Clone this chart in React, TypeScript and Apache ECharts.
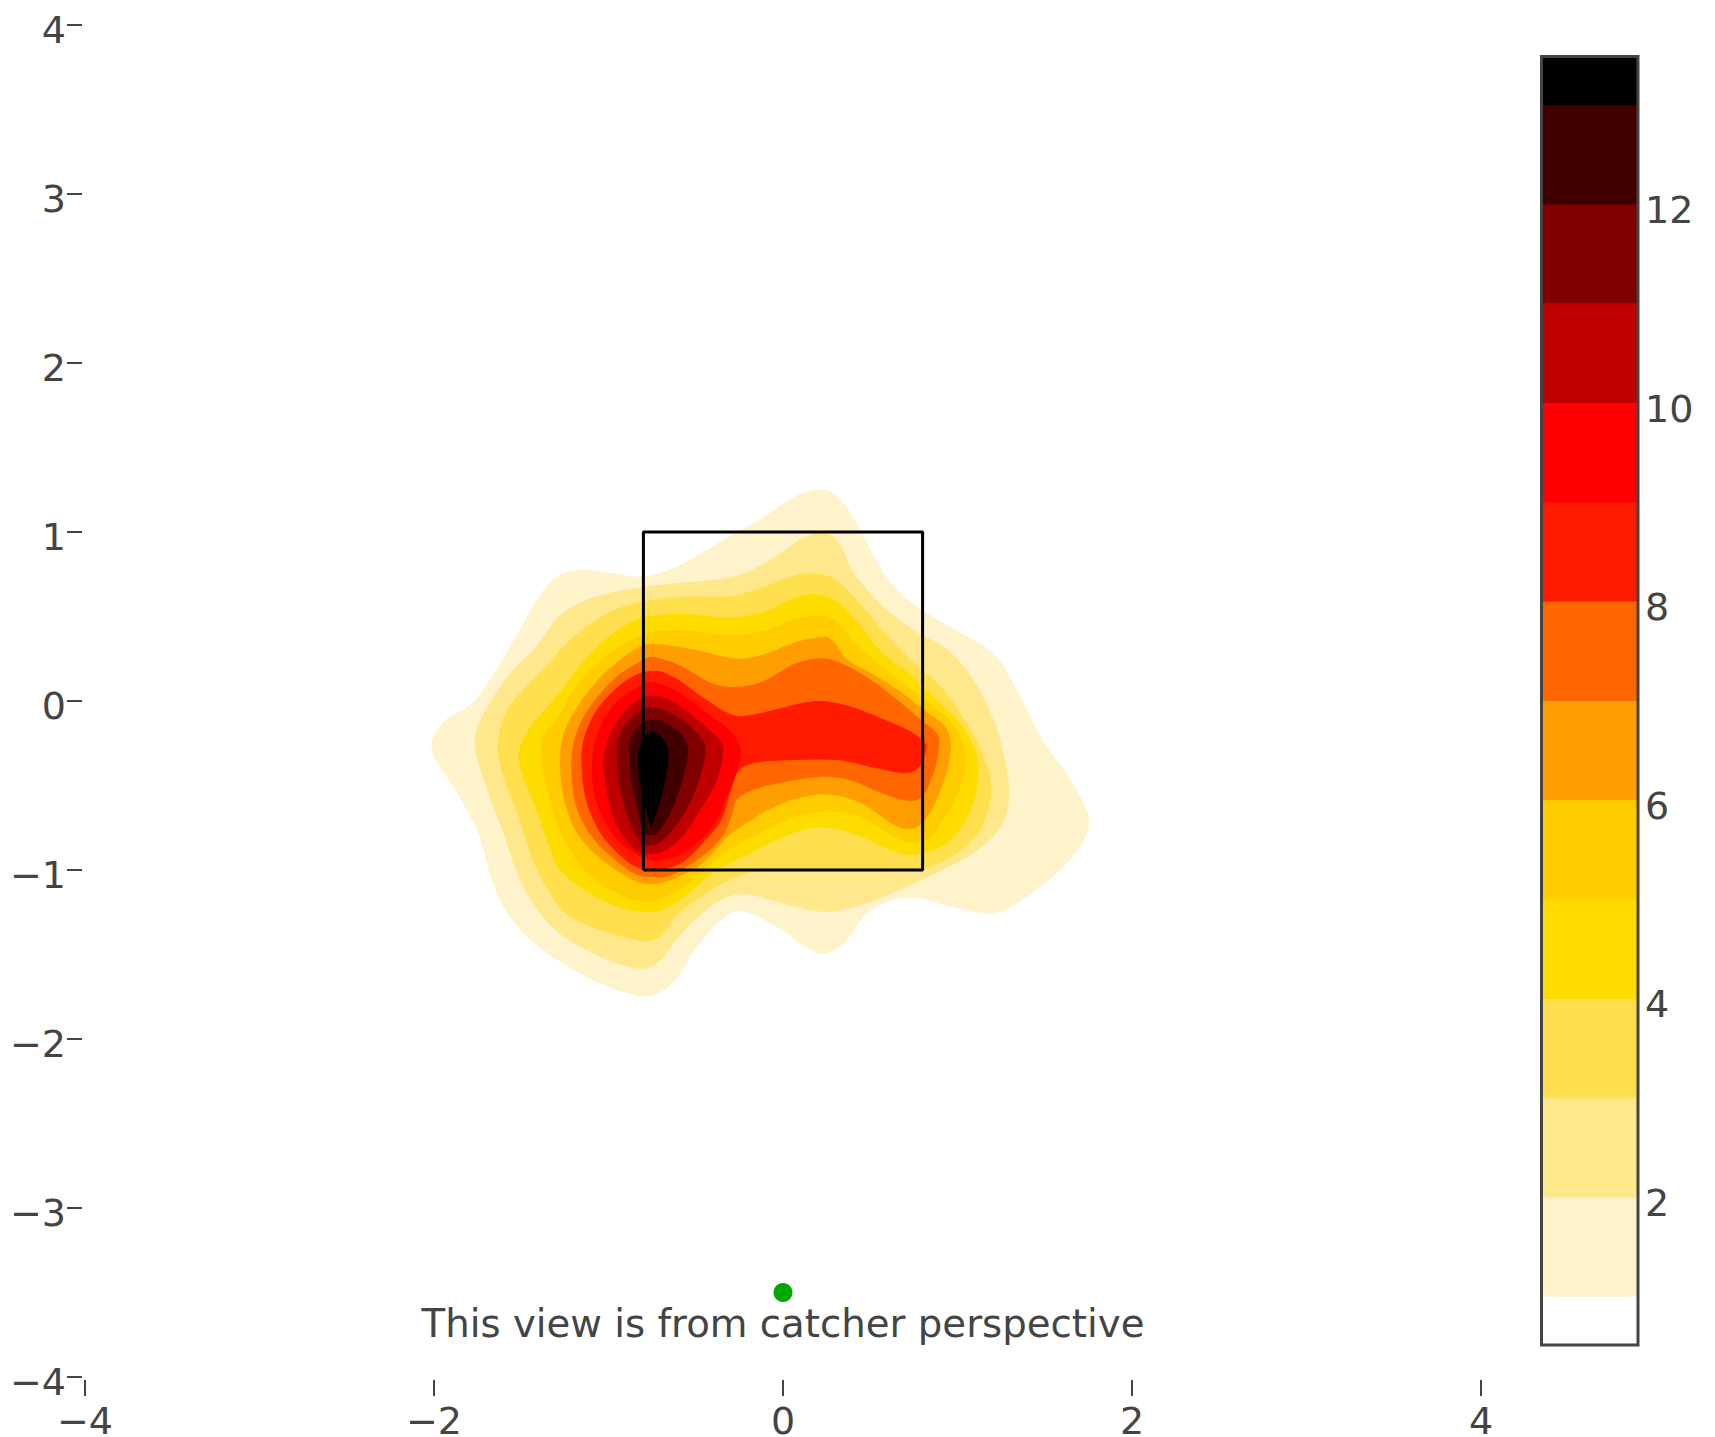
import React, { useEffect, useRef } from "react";
import * as echarts from "echarts";

type P = number[];
const level1: P[] = [[.227,1.253],[.333,1.189],[.438,1.021],[.57,.768],[.729,.589],[.966,.432],[1.204,.284],[1.336,.074],[1.494,-.242],[1.653,-.474],[1.753,-.705],[1.679,-.895],[1.494,-1.084],[1.283,-1.231],[1.151,-1.257],[.94,-1.21],[.755,-1.164],[.597,-1.189],[.465,-1.274],[.359,-1.421],[.24,-1.497],[.121,-1.452],[-.037,-1.337],[-.235,-1.242],[-.354,-1.295],[-.486,-1.442],[-.618,-1.652],[-.75,-1.743],[-.882,-1.732],[-1.067,-1.663],[-1.304,-1.526],[-1.463,-1.4],[-1.595,-1.231],[-1.674,-1.042],[-1.753,-.768],[-1.885,-.516],[-1.991,-.347],[-2.012,-.242],[-1.938,-.116],[-1.779,-.011],[-1.647,.179],[-1.515,.41],[-1.383,.642],[-1.278,.747],[-1.146,.777],[-.961,.754],[-.803,.737],[-.644,.779],[-.486,.863],[-.301,.979],[-.116,1.084],[.069,1.21]];
const level2: P[] = [[.253,.989],[.333,.916],[.399,.768],[.544,.589],[.729,.432],[.94,.305],[1.098,.116],[1.23,-.179],[1.296,-.516],[1.257,-.726],[1.125,-.874],[.913,-1],[.649,-1.126],[.438,-1.21],[.24,-1.248],[.042,-1.21],[-.143,-1.158],[-.275,-1.147],[-.407,-1.21],[-.565,-1.358],[-.697,-1.526],[-.789,-1.583],[-.908,-1.568],[-1.067,-1.505],[-1.278,-1.379],[-1.41,-1.231],[-1.515,-1.042],[-1.608,-.768],[-1.713,-.474],[-1.766,-.263],[-1.727,-.095],[-1.568,.158],[-1.41,.326],[-1.291,.495],[-1.146,.589],[-.935,.653],[-.644,.695],[-.407,.716],[-.222,.758],[-.063,.842],[.121,.968]];
const level3: P[] = [[.187,.754],[.306,.716],[.438,.579],[.597,.389],[.755,.221],[.913,.074],[1.032,-.095],[1.125,-.263],[1.191,-.474],[1.177,-.642],[1.098,-.81],[.94,-.937],[.781,-.996],[.57,-1.004],[.306,-1.004],[.042,-1],[-.195,-1.017],[-.354,-1.084],[-.512,-1.189],[-.618,-1.274],[-.671,-1.358],[-.75,-1.417],[-.855,-1.41],[-1.04,-1.358],[-1.225,-1.274],[-1.331,-1.147],[-1.436,-.937],[-1.515,-.684],[-1.608,-.432],[-1.634,-.242],[-1.568,-.032],[-1.383,.179],[-1.212,.368],[-1.014,.516],[-.803,.589],[-.565,.617],[-.301,.621],[-.116,.674],[.069,.743]];
const level4: P[] = [[.187,.632],[.306,.589],[.438,.453],[.57,.284],[.729,.158],[.874,.011],[1.019,-.137],[1.111,-.326],[1.111,-.516],[1.045,-.705],[.94,-.842],[.781,-.905],[.649,-.895],[.438,-.8],[.24,-.747],[.042,-.789],[-.195,-.905],[-.407,-1.021],[-.539,-1.137],[-.671,-1.227],[-.763,-1.248],[-.908,-1.231],[-1.093,-1.147],[-1.278,-1],[-1.357,-.81],[-1.423,-.621],[-1.502,-.41],[-1.51,-.284],[-1.436,-.137],[-1.278,.053],[-1.172,.2],[-1.04,.347],[-.855,.474],[-.697,.512],[-.512,.512],[-.301,.495],[-.116,.526],[.069,.611]];
const level5: P[] = [[.214,.505],[.306,.474],[.399,.358],[.544,.221],[.689,.105],[.834,-.011],[.966,-.126],[1.032,-.263],[1.04,-.432],[.966,-.621],[.861,-.789],[.781,-.836],[.663,-.815],[.438,-.684],[.24,-.653],[.042,-.695],[-.143,-.789],[-.301,-.874],[-.407,-.958],[-.539,-1.074],[-.671,-1.158],[-.763,-1.183],[-.882,-1.168],[-1.04,-1.084],[-1.172,-.958],[-1.278,-.768],[-1.344,-.558],[-1.383,-.368],[-1.378,-.221],[-1.291,-.095],[-1.172,.105],[-1.027,.253],[-.855,.368],[-.697,.415],[-.512,.415],[-.301,.389],[-.116,.415],[.069,.484]];
const level6: P[] = [[.227,.379],[.293,.347],[.372,.242],[.517,.158],[.676,.053],[.808,-.053],[.927,-.147],[.961,-.263],[.94,-.41],[.874,-.6],[.795,-.726],[.715,-.758],[.623,-.726],[.438,-.6],[.24,-.552],[.042,-.589],[-.116,-.663],[-.301,-.789],[-.38,-.874],[-.486,-.979],[-.644,-1.059],[-.75,-1.084],[-.855,-1.063],[-1.014,-.958],[-1.146,-.832],[-1.225,-.684],[-1.272,-.474],[-1.272,-.263],[-1.225,-.116],[-1.119,.053],[-.987,.2],[-.829,.316],[-.723,.337],[-.512,.305],[-.275,.253],[-.116,.274],[.069,.347]];
const level7: P[] = [[.227,.253],[.359,.211],[.517,.116],[.676,-.011],[.808,-.126],[.887,-.2],[.892,-.284],[.861,-.432],[.795,-.568],[.702,-.589],[.544,-.537],[.399,-.474],[.24,-.448],[.042,-.474],[-.143,-.516],[-.261,-.579],[-.296,-.684],[-.354,-.81],[-.486,-.937],[-.644,-1.031],[-.75,-1.042],[-.855,-1.021],[-1.014,-.895],[-1.119,-.768],[-1.185,-.621],[-1.212,-.432],[-1.199,-.242],[-1.119,-.053],[-.961,.137],[-.803,.242],[-.737,.259],[-.591,.211],[-.407,.105],[-.261,.084],[-.116,.116],[.069,.221]];
const level8: P[] = [[.227,0],[.385,-.032],[.57,-.105],[.729,-.179],[.808,-.242],[.821,-.284],[.781,-.389],[.702,-.427],[.544,-.4],[.372,-.358],[.24,-.347],[-.011,-.352],[-.169,-.368],[-.261,-.421],[-.301,-.537],[-.354,-.705],[-.433,-.81],[-.565,-.947],[-.697,-1],[-.776,-1],[-.882,-.958],[-1.027,-.81],[-1.119,-.621],[-1.151,-.432],[-1.146,-.242],[-1.067,-.053],[-.908,.116],[-.75,.179],[-.618,.137],[-.459,.021],[-.301,-.078],[-.195,-.084],[-.011,-.042],[.095,-.015]];
const level9: P[] = [[-.75,.112],[-.618,.063],[-.459,-.053],[-.301,-.179],[-.243,-.284],[-.261,-.41],[-.327,-.579],[-.407,-.747],[-.565,-.895],[-.697,-.941],[-.776,-.937],[-.908,-.863],[-1.014,-.726],[-1.08,-.558],[-1.093,-.368],[-1.067,-.2],[-.961,-.011],[-.829,.084]];
const level10: P[] = [[-.75,.032],[-.618,-.011],[-.459,-.137],[-.354,-.242],[-.346,-.326],[-.38,-.474],[-.459,-.621],[-.565,-.789],[-.671,-.884],[-.75,-.905],[-.829,-.895],[-.908,-.81],[-.974,-.684],[-1.019,-.474],[-1.022,-.305],[-.961,-.137],[-.855,-.011]];
const level11: P[] = [[-.75,-.036],[-.618,-.084],[-.512,-.168],[-.446,-.263],[-.459,-.389],[-.512,-.558],[-.591,-.705],[-.684,-.821],[-.75,-.853],[-.816,-.832],[-.882,-.705],[-.935,-.516],[-.953,-.347],[-.935,-.2],[-.855,-.084]];
const level12: P[] = [[-.75,-.109],[-.644,-.147],[-.565,-.221],[-.544,-.305],[-.578,-.474],[-.644,-.663],[-.71,-.768],[-.75,-.794],[-.803,-.768],[-.842,-.6],[-.876,-.432],[-.882,-.263],[-.842,-.168]];
const level13: P[] = [[-.755,-.183],[-.7,-.21],[-.658,-.29],[-.665,-.41],[-.7,-.58],[-.74,-.7],[-.755,-.746],[-.77,-.7],[-.8,-.58],[-.825,-.45],[-.83,-.32],[-.8,-.22]];
const contours = [level1, level2, level3, level4, level5, level6, level7, level8, level9, level10, level11, level12, level13];

const bandColors = ["#fff3cc", "#ffe88c", "#ffdf4d", "#ffdc00", "#ffcc00", "#ff9e00", "#ff6600", "#ff1a00", "#ff0000", "#c00000", "#800000", "#400000", "#000000"];
const bandEdges = [1, 2, 3, 4, 5, 6, 7, 8, 9, 10, 11, 12, 13, 13.5];
const barTicks = [2, 4, 6, 8, 10, 12];
const strikeZone = [[-0.8, -1], [0.8, -1], [0.8, 1], [-0.8, 1], [-0.8, -1]];
const plateMarker = [[0, -3.5]];
const note = "This view is from catcher perspective";
const FONT = "DejaVu Sans";
const INK = "#444444";

function smoothClosed(pts: number[][]): number[][] {
  const out: number[][] = [];
  const n = pts.length;
  for (let i = 0; i < n; i++) {
    const a = pts[(i - 1 + n) % n], b = pts[i], c = pts[(i + 1) % n], d = pts[(i + 2) % n];
    for (let k = 0; k < 8; k++) {
      const t = k / 8, t2 = t * t, t3 = t2 * t;
      out.push([0, 1].map((j) => 0.5 * (2 * b[j] + (c[j] - a[j]) * t + (2 * a[j] - 5 * b[j] + 4 * c[j] - d[j]) * t2 + (3 * b[j] - a[j] - 3 * c[j] + d[j]) * t3)));
    }
  }
  return out;
}

export default function App() {
  const ref = useRef<HTMLDivElement>(null);
  useEffect(() => {
    document.body.style.margin = "0";
    document.body.style.overflow = "hidden";
    const chart = echarts.init(ref.current!, null, { renderer: "svg" });
    const minusFmt = (v: number) => String(v).replace("-", "\u2212");
    chart.setOption({
      animation: false,
      backgroundColor: "#ffffff",
      grid: [
        { left: 85, top: 25, width: 1396, height: 1352, show: false, outerBoundsMode: "none" },
        { left: 1540, top: 55, width: 99, height: 1291, show: false, outerBoundsMode: "none" },
      ],
      xAxis: [
        {
          type: "value", gridIndex: 0, min: -4, max: 4, interval: 2, offset: 3,
          axisLine: { show: false, onZero: false }, splitLine: { show: false },
          axisTick: { show: true, length: 16, lineStyle: { color: INK, width: 2 } },
          axisLabel: { fontFamily: FONT, fontSize: 38, lineHeight: 28, color: INK, margin: 27, formatter: minusFmt, hideOverlap: false },
        },
        { type: "value", gridIndex: 1, min: 0, max: 1, show: false },
      ],
      yAxis: [
        {
          type: "value", gridIndex: 0, min: -4, max: 4, interval: 1, offset: 3,
          axisLine: { show: false, onZero: false }, splitLine: { show: false },
          axisTick: { show: true, length: 15, lineStyle: { color: INK, width: 2 } },
          axisLabel: { fontFamily: FONT, fontSize: 38, lineHeight: 10, verticalAlign: "top", color: INK, margin: 16, formatter: minusFmt },
        },
        {
          type: "value", gridIndex: 1, min: 0.5, max: 13.5, position: "right",
          axisLine: { show: false, onZero: false }, splitLine: { show: false }, axisTick: { show: false },
          axisLabel: { fontFamily: FONT, fontSize: 38, lineHeight: 12, verticalAlign: "top", color: INK, margin: 6, customValues: barTicks },
        },
      ],
      series: [
        {
          type: "custom", xAxisIndex: 0, yAxisIndex: 0, z: 2, clip: false, silent: true,
          data: contours.map((_, i) => [i]),
          renderItem: (params: any, api: any) => ({
            type: "polygon",
            shape: { points: smoothClosed(contours[params.dataIndex].map((p) => api.coord(p))) },
            style: { fill: bandColors[params.dataIndex] },
          }),
        },
        {
          type: "line", xAxisIndex: 0, yAxisIndex: 0, z: 4, data: strikeZone, symbol: "none", silent: true,
          lineStyle: { color: "#000000", width: 3 },
        },
        {
          type: "scatter", xAxisIndex: 0, yAxisIndex: 0, z: 5, data: plateMarker, symbolSize: 19, silent: true,
          itemStyle: { color: "#00a800", opacity: 1 },
          label: { show: true, position: "bottom", distance: 2, formatter: note, fontFamily: FONT, fontSize: 38.7, color: INK, opacity: 1 },
        },
        {
          type: "custom", xAxisIndex: 1, yAxisIndex: 1, z: 2, silent: true,
          data: bandColors.map((_, i) => [bandEdges[i], bandEdges[i + 1]]),
          renderItem: (params: any, api: any) => {
            const a = api.coord([0, api.value(0)]);
            const b = api.coord([1, api.value(1)]);
            return {
              type: "rect",
              shape: { x: a[0], y: b[1], width: b[0] - a[0], height: a[1] - b[1] + 0.5 },
              style: { fill: bandColors[params.dataIndex] },
            };
          },
        },
        {
          type: "custom", xAxisIndex: 1, yAxisIndex: 1, z: 4, silent: true, clip: false,
          data: [[0.5, 13.5]],
          renderItem: (_: any, api: any) => {
            const a = api.coord([0, api.value(0)]);
            const b = api.coord([1, api.value(1)]);
            return {
              type: "rect",
              shape: { x: a[0] + 1.5, y: b[1] + 1.5, width: b[0] - a[0] - 2.5, height: a[1] - b[1] - 2.5 },
              style: { fill: "none", stroke: INK, lineWidth: 3 },
            };
          },
        },
      ],
    });
    return () => chart.dispose();
  }, []);
  return <div ref={ref} style={{ width: 1715, height: 1437 }} />;
}
